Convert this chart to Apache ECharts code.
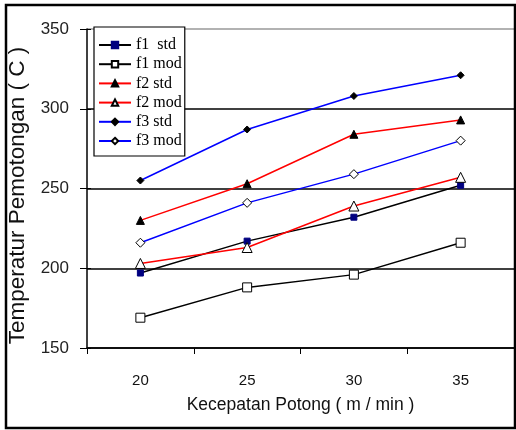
<!DOCTYPE html>
<html>
<head>
<meta charset="utf-8">
<script src="https://cdn.jsdelivr.net/npm/echarts@6/dist/echarts.min.js"></script>
<style>
    body { margin: 0; background: #fff; }
    #chart { width: 516px; height: 430px; }
</style>
</head>
<body>
<div id="chart"></div>
<script>
var speeds = ['20', '25', '30', '35'];
var f1Std = [197, 217, 232, 252];
var f1Mod = [169, 188, 196, 216];
var f2Std = [230, 253, 284, 293];
var f2Mod = [203, 213, 239, 257];
var f3Std = [255, 287, 308, 321];
var f3Mod = [216, 241, 259, 280];

var sans = "'Liberation Sans', Arial, sans-serif";

function makeSeries(name, data, lineColor, symbol, size, fill, stroke) {
    return {
        name: name,
        type: 'line',
        data: data,
        symbol: symbol,
        symbolSize: size,
        lineStyle: { color: lineColor, width: 1.5 },
        itemStyle: { color: fill, borderColor: stroke, borderWidth: 1 },
        emphasis: { disabled: true }
    };
}

var myChart = echarts.init(document.getElementById('chart'));

option = {
    animation: false,
    grid: { left: 87, right: 2, top: 29, bottom: 82, outerBoundsMode: 'none' },
    graphic: [{
        type: 'rect',
        shape: { x: 6, y: 5, width: 509, height: 423 },
        style: { fill: 'none', stroke: '#000', lineWidth: 2.5 },
        z: 100
    }],
    legend: {
        orient: 'vertical',
        left: 94,
        top: 27,
        padding: [10, 3, 7, 4],
        backgroundColor: '#fff',
        borderColor: '#000',
        borderWidth: 1.2,
        itemWidth: 32,
        itemHeight: 8,
        itemGap: 3.2,
        textStyle: { fontFamily: 'Liberation Serif', fontSize: 16, color: '#000' },
        data: ['f1  std', 'f1 mod', 'f2 std', 'f2 mod', 'f3 std', 'f3 mod']
    },
    xAxis: {
        type: 'category',
        data: speeds,
        boundaryGap: true,
        name: 'Kecepatan Potong ( m / min )',
        nameLocation: 'middle',
        nameGap: 48,
        nameTextStyle: { fontFamily: sans, fontSize: 17.5, color: '#111' },
        axisLine: { lineStyle: { color: '#000', width: 1.5 } },
        axisTick: { show: true, length: 6, lineStyle: { color: '#000' } },
        axisLabel: { margin: 25, fontFamily: sans, fontSize: 15, color: '#111' },
        splitLine: { show: false }
    },
    yAxis: [{
        type: 'value',
        min: 150,
        max: 350,
        interval: 50,
        name: 'Temperatur Pemotongan ( C )',
        nameLocation: 'middle',
        nameRotate: 90,
        nameGap: 50,
        nameTextStyle: { fontFamily: sans, fontSize: 22.5, color: '#111', padding: [0, 14, 0, 0] },
        axisLine: { show: true, lineStyle: { color: '#000', width: 1.5 } },
        axisTick: { show: true, length: 7, lineStyle: { color: '#000' } },
        axisLabel: { margin: 18, fontFamily: sans, fontSize: 17, color: '#222' },
        splitLine: {
            show: true,
            lineStyle: { color: ['#000', '#000', '#000', '#000', '#999'], width: 1.5 }
        }
    }, {
        // inner half of the crossing ticks
        type: 'value',
        position: 'left',
        min: 150,
        max: 350,
        interval: 50,
        axisLine: { show: false },
        axisTick: { show: true, inside: true, length: 4, lineStyle: { color: '#000' } },
        axisLabel: { show: false },
        splitLine: { show: false }
    }],
    series: [
        makeSeries('f1  std', f1Std, '#000', 'rect', 6, '#000080', '#000080'),
        makeSeries('f1 mod', f1Mod, '#000', 'rect', 9, '#fff', '#000'),
        makeSeries('f2 std', f2Std, '#ff0000', 'triangle', 8, '#000', '#000'),
        makeSeries('f2 mod', f2Mod, '#ff0000', 'triangle', 10, '#fff', '#000'),
        makeSeries('f3 std', f3Std, '#0000ff', 'diamond', 7, '#000', '#000'),
        makeSeries('f3 mod', f3Mod, '#0000ff', 'diamond', 9, '#fff', '#000')
    ]
};

myChart.setOption(option);
</script>
</body>
</html>
